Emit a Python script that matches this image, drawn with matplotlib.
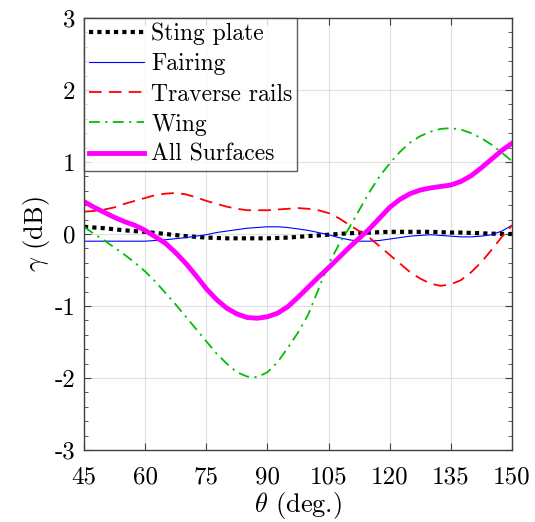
"""Directivity gain of individual surfaces versus observer angle."""

import matplotlib
matplotlib.use("Agg")
import matplotlib.pyplot as plt
from matplotlib.ticker import MultipleLocator

plt.rcParams["font.family"] = "serif"
plt.rcParams["font.serif"] = ["cmr10", "DejaVu Serif"]
plt.rcParams["mathtext.fontset"] = "cm"
plt.rcParams["axes.unicode_minus"] = False
plt.rcParams["axes.formatter.use_mathtext"] = False

theta = [45, 47.5, 50, 52.5, 55, 57.5, 60, 62.5, 65, 67.5, 70, 72.5, 75, 77.5,
         80, 82.5, 85, 87.5, 90, 92.5, 95, 97.5, 100, 102.5, 105, 107.5, 110,
         112.5, 115, 117.5, 120, 122.5, 125, 127.5, 130, 132.5, 135, 137.5,
         140, 142.5, 145, 147.5, 150]

sting_plate = [0.10, 0.09, 0.08, 0.065, 0.05, 0.04, 0.03, 0.015, 0.0, -0.015, -0.03,
               -0.04, -0.05, -0.055, -0.06, -0.06, -0.06, -0.06, -0.06, -0.055, -0.05,
               -0.04, -0.03, -0.02, -0.01, 0.0, 0.01, 0.015, 0.02, 0.025, 0.03, 0.03,
               0.03, 0.03, 0.03, 0.025, 0.02, 0.02, 0.015, 0.01, 0.005, 0.0, 0.0]
fairing = [-0.10, -0.10, -0.10, -0.10, -0.10, -0.10, -0.10, -0.09, -0.08, -0.065, -0.05,
           -0.03, -0.01, 0.02, 0.04, 0.06, 0.08, 0.09, 0.10, 0.10, 0.09, 0.07, 0.05,
           0.02, -0.01, -0.05, -0.08, -0.10, -0.10, -0.09, -0.07, -0.05, -0.03, -0.02,
           -0.01, -0.02, -0.03, -0.04, -0.04, -0.03, -0.01, 0.04, 0.12]
traverse_rails = [0.31, 0.32, 0.34, 0.37, 0.42, 0.46, 0.50, 0.54, 0.56, 0.57, 0.55,
                  0.51, 0.46, 0.42, 0.38, 0.35, 0.33, 0.33, 0.33, 0.34, 0.35, 0.36,
                  0.35, 0.33, 0.29, 0.22, 0.13, 0.04, -0.05, -0.17, -0.29, -0.41,
                  -0.53, -0.62, -0.69, -0.72, -0.70, -0.64, -0.53, -0.39, -0.22,
                  -0.04, 0.12]
wing = [0.10, 0.0, -0.09, -0.19, -0.29, -0.40, -0.52, -0.66, -0.82, -0.98, -1.15,
        -1.32, -1.49, -1.66, -1.80, -1.92, -1.98, -1.99, -1.92, -1.78, -1.58, -1.37,
        -1.12, -0.77, -0.42, -0.15, 0.08, 0.33, 0.58, 0.80, 0.98, 1.14, 1.27, 1.36,
        1.42, 1.46, 1.47, 1.45, 1.40, 1.33, 1.24, 1.13, 1.01]
all_surfaces = [0.45, 0.37, 0.30, 0.23, 0.17, 0.12, 0.05, -0.04, -0.13, -0.26, -0.41,
                -0.58, -0.76, -0.91, -1.03, -1.11, -1.16, -1.17, -1.15, -1.10, -1.01,
                -0.88, -0.74, -0.60, -0.47, -0.33, -0.19, -0.06, 0.07, 0.22, 0.37,
                0.48, 0.56, 0.61, 0.64, 0.66, 0.68, 0.73, 0.81, 0.92, 1.04, 1.16, 1.26]

fig = plt.figure(figsize=(5.35, 5.22), dpi=100)
ax = fig.add_axes([0.157, 0.138, 0.8, 0.8275])

ax.plot(theta, sting_plate, color="k", lw=3.0, ls=(0, (1, 1)), label="Sting plate")
ax.plot(theta, fairing, color="b", lw=0.8, label="Fairing")
ax.plot(theta, traverse_rails, color="r", lw=1.3, ls=(0, (7, 4)), label="Traverse rails")
ax.plot(theta, wing, color=(0, 0.75, 0), lw=1.3, ls=(0, (6, 3, 1.2, 3)), label="Wing")
ax.plot(theta, all_surfaces, color=(1, 0, 1), lw=3.5, label="All Surfaces")

ax.set_xlim(45, 150)
ax.set_ylim(-3, 3)
ax.set_xticks(range(45, 151, 15))
ax.set_yticks(range(-3, 4))
ax.yaxis.set_minor_locator(MultipleLocator(0.2))
ax.grid(True, color="0.88", lw=0.8)
ax.set_axisbelow(True)
ax.tick_params(which="both", direction="in", top=True, right=True,
               labelsize=18, color="0.25")
ax.tick_params(axis="x", pad=12)
ax.tick_params(axis="y", pad=6)
ax.tick_params(which="major", length=5)
ax.tick_params(which="minor", length=3)
for spine in ax.spines.values():
    spine.set_color("0.25")
    spine.set_linewidth(1.0)

ax.set_xlabel(r"$\theta$ (deg.)", fontsize=19, labelpad=1)
ax.set_ylabel(r"$\gamma$ (dB)", fontsize=19, labelpad=2)

leg = ax.legend(loc="upper left", fontsize=17, frameon=True, fancybox=False,
                borderaxespad=0, borderpad=0.2, handlelength=2.35,
                handletextpad=0.3, labelspacing=0.34)
leg.get_frame().set_edgecolor("0.2")
leg.get_frame().set_linewidth(1.0)

fig.savefig("out.png", dpi=100)
